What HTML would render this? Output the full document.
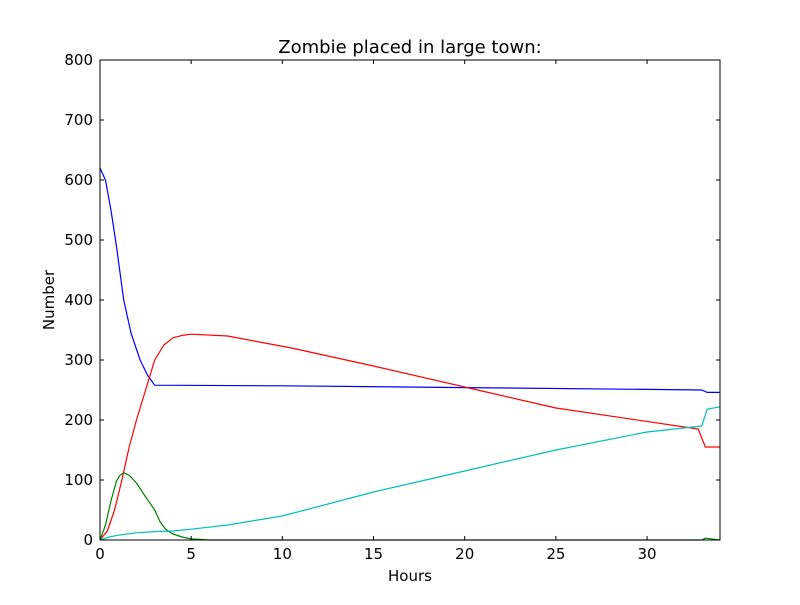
<!DOCTYPE html>
<html><head><meta charset="utf-8"><style>body{margin:0;background:#fff}svg{font-family:"DejaVu Sans","Liberation Sans",sans-serif}</style></head>
<body>
<svg id="c" width="800" height="600"></svg>
<script>
const xTicks=[0,5,10,15,20,25,30];
const yTicks=[0,100,200,300,400,500,600,700,800];
const blueT=[0,0.3,0.6,0.9,1.3,1.7,2.2,2.6,3,10,20,30,33,33.3,34];
const blueV=[620,600,550,490,400,345,300,275,258,257,254,251,250,246,246];
const redT=[0,0.4,0.8,1.2,1.6,2,2.5,3,3.5,4,4.5,5,7,10.5,15,20,25,32.8,33.2,34];
const redV=[0,15,50,100,155,200,250,300,325,337,341,343,340,320,290,255,220,185,155,155];
const greenT=[0,0.3,0.6,0.9,1.1,1.3,1.6,2,2.5,3,3.3,3.6,4,4.5,5,6,33,33.2,33.5,34];
const greenV=[0,25,65,98,108,112,108,95,72,50,30,18,10,5,2,0,0,3,2,0];
const cyanT=[0,0.5,1,2,3,4,5,7,10,15,20,25,30,33,33.3,34];
const cyanV=[0,5,8,12,14,15,18,25,40,80,115,150,180,190,218,222];
const L=100,R=720,T=60,B=540,X0=0,X1=34,Y0=0,Y1=800;
const sx=v=>L+(v-X0)/(X1-X0)*(R-L), sy=v=>B-(v-Y0)/(Y1-Y0)*(B-T);
const svg=document.getElementById('c'),NS='http://www.w3.org/2000/svg';
function mk(tag,attrs,name,txt){const e=document.createElementNS(NS,tag);for(const k in attrs)e.setAttribute(k,attrs[k]);


if(txt!==undefined)e.textContent=txt;svg.appendChild(e);return e;}
mk('rect',{x:L,y:T,width:R-L,height:B-T,fill:'#fff'},'plot-area');
function series(t,v,col,name){mk('polyline',{points:t.map((x,i)=>sx(x)+','+sy(v[i])).join(' '),fill:'none',stroke:col,'stroke-width':1.2,'stroke-linejoin':'round'},name);}
series(blueT,blueV,'#0000ff','series-blue');
series(redT,redV,'#ff0000','series-red');
series(greenT,greenV,'#008000','series-green');
series(cyanT,cyanV,'#00bfbf','series-cyan');
mk('rect',{x:L,y:T,width:R-L,height:B-T,fill:'none',stroke:'#000','stroke-width':1},'axes-frame');
xTicks.forEach(v=>{const x=sx(v);
mk('line',{x1:x,x2:x,y1:B,y2:B-4,stroke:'#000'},'x-tick');
mk('line',{x1:x,x2:x,y1:T,y2:T+4,stroke:'#000'},'x-tick-top');
mk('text',{x:x,y:B+19,'text-anchor':'middle','font-size':15},'x-tick-label',String(v));});
yTicks.forEach(v=>{const y=sy(v);
mk('line',{x1:L,x2:L+4,y1:y,y2:y,stroke:'#000'},'y-tick');
mk('line',{x1:R,x2:R-4,y1:y,y2:y,stroke:'#000'},'y-tick-right');
mk('text',{x:L-7,y:y+5,'text-anchor':'end','font-size':15},'y-tick-label',String(v));});
mk('text',{x:410,y:53,'text-anchor':'middle','font-size':18},'chart-title','Zombie placed in large town:');
mk('text',{x:410,y:581,'text-anchor':'middle','font-size':15},'x-axis-title','Hours');
mk('text',{x:54,y:300,'text-anchor':'middle','font-size':15,transform:'rotate(-90 54 300)'},'y-axis-title','Number');
</script>
</body></html>
